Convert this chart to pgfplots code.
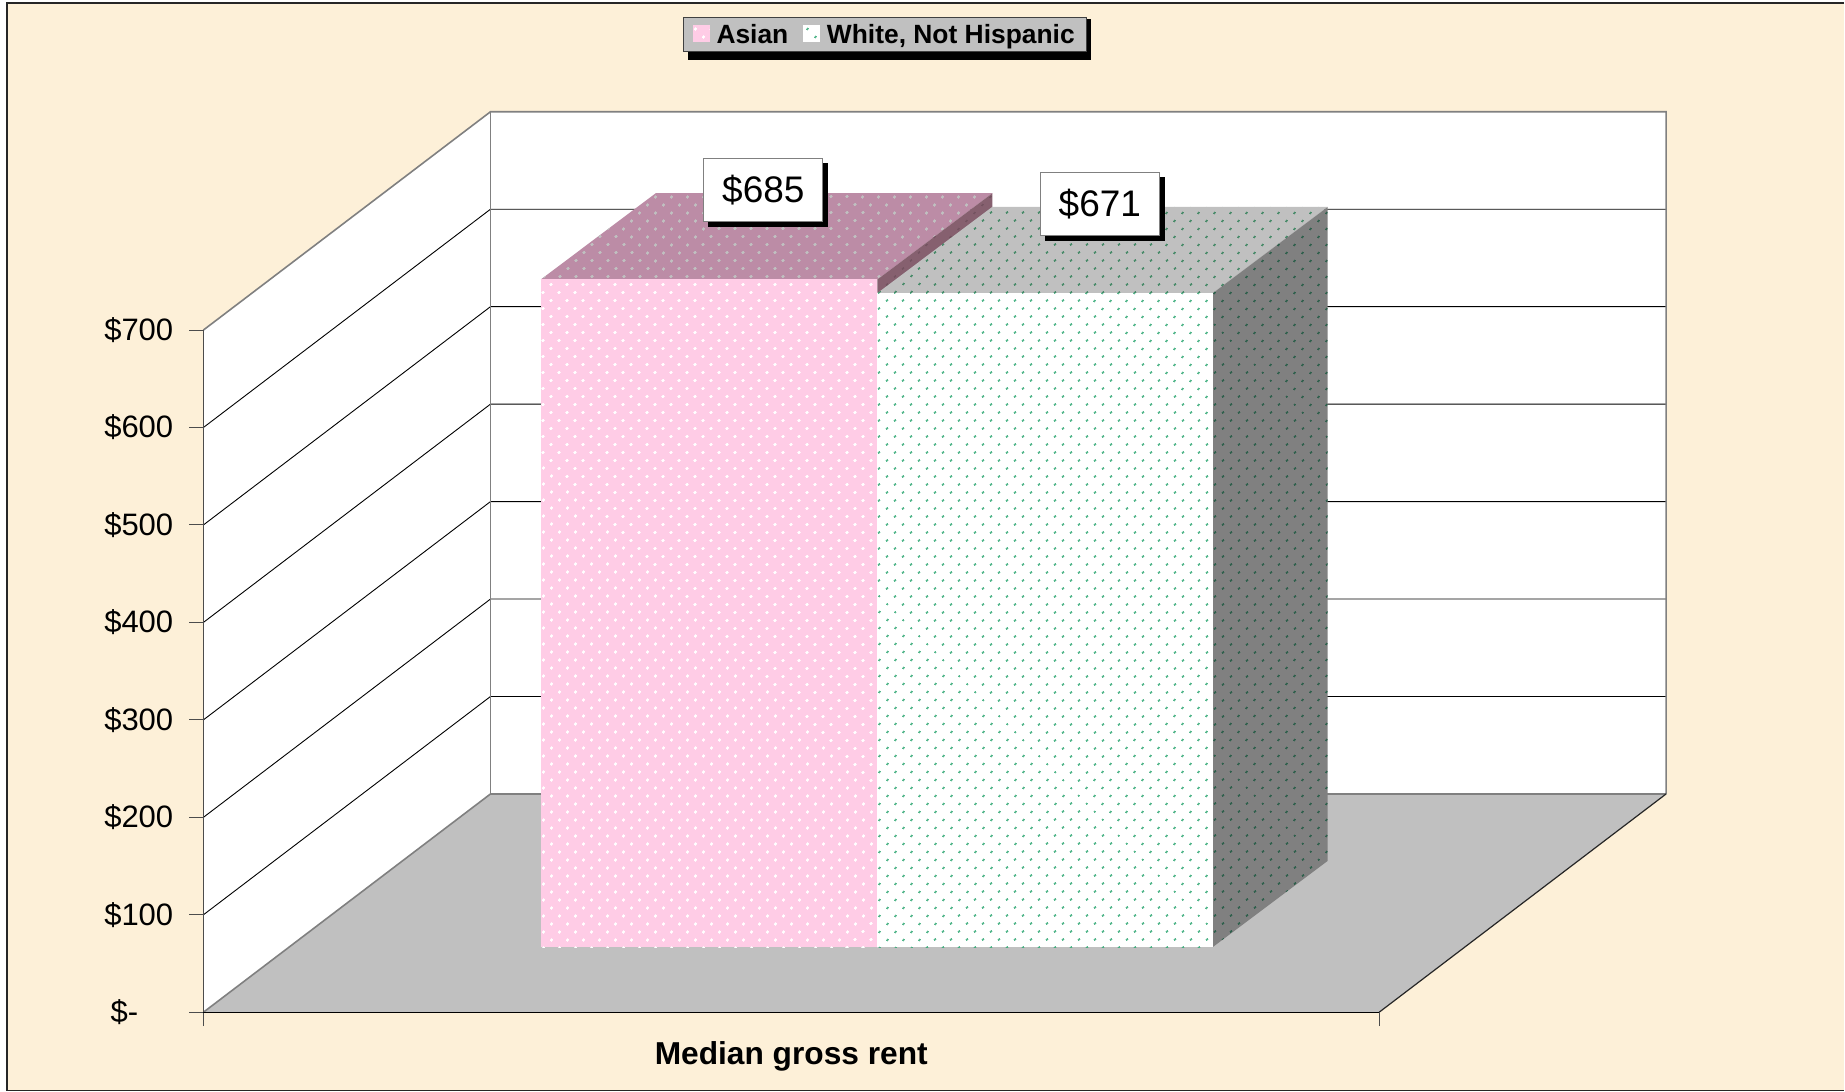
\documentclass[border=0pt]{standalone}
\usepackage{fontspec}
\setmainfont{Liberation Sans}
\usepackage{pgfplots}
\pgfplotsset{compat=1.18}
\usetikzlibrary{patterns.meta}
\definecolor{paper}{HTML}{FDF0D8}
\definecolor{floorgrey}{HTML}{C0C0C0}
\definecolor{wallline}{HTML}{808080}
\definecolor{pinkfront}{HTML}{FFCCE6}
\definecolor{pinktop}{HTML}{BC8CA6}
\definecolor{pinkside}{HTML}{86606F}
\definecolor{greendot}{HTML}{2FA873}
\definecolor{greendottop}{HTML}{2F8058}
\definecolor{greendotside}{HTML}{1F5A42}
\tikzset{
  dots/.style={pattern={Dots[angle=45,distance=11.31pt,radius=#1]}},
  databox/.style={draw=wallline,line width=1pt,fill=white,minimum width=119pt,minimum height=63pt,inner sep=0pt,font=\fontsize{37}{40}\selectfont},
  shadowbox/.style={fill=black,minimum width=120pt,minimum height=64pt,inner sep=0pt},
}
\begin{document}
\begin{tikzpicture}[x=1pt,y=1pt]
\begin{axis}[
  scale only axis, width=1176.2pt, height=682.5pt,
  xmin=203.5, xmax=1379.7, ymin=0, ymax=700,
  clip=false, axis on top,
  axis x line*=bottom, axis y line*=left,
  axis line style={-,line width=1.4pt,color=black!70},
  x axis line style={color=black},
  xtick={203.5,1379.7}, xticklabels={,},
  ytick={0,100,...,700},
  yticklabels={\mbox{\$-\hspace*{35pt}},\$100,\$200,\$300,\$400,\$500,\$600,\$700},
  tick align=outside, major tick length=14pt,
  tick style={line width=1pt,color=black!70},
  y tick label style={font=\fontsize{31}{34}\selectfont,inner sep=0pt,xshift=-16pt},
  xlabel={Median gross rent},
  xlabel style={font=\fontsize{31.7}{34}\selectfont\bfseries,at={(axis description cs:0.5,-0.064)},anchor=center},
  /pgf/number format/assume math mode=true,
  legend columns=2,
  legend cell align=left,
  legend style={
    at={(axis description cs:0.5794,1.4333)},anchor=center,
    fill=floorgrey,draw=black!75,line width=1pt,
    font=\fontsize{26.4}{29}\selectfont\bfseries,
    inner xsep=9.5pt,inner ysep=5pt,
    /tikz/every even column/.append style={column sep=12.6pt},
    /tikz/every odd column/.append style={column sep=5pt},
  },
]
% page and frame
\addplot[forget plot,fill=white,draw=none] coordinates {(0,-81.33)(0,1038.67)(1845,1038.67)(1845,-81.33)} -- cycle;
\addplot[forget plot,fill=paper,draw=none] coordinates {(7,-80.3)(7,1035.6)(1845,1035.6)(1845,-80.3)} -- cycle;
\addplot[forget plot,draw=black!85,line width=1.6pt] coordinates {(1845,1035.6)(7,1035.6)(7,-80.3)(1845,-80.3)};
% walls
\addplot[forget plot,fill=white,draw=none] coordinates {(203.5,0)(203.5,700)(490.7,924)(490.7,224)} -- cycle;
\addplot[forget plot,fill=white,draw=none] coordinates {(490.7,224)(490.7,924)(1666.8,924)(1666.8,224)} -- cycle;
% gridlines
\addplot[forget plot,black,line width=0.9pt] coordinates {(203.5,100)(490.7,324)(1666.8,324)};
\addplot[forget plot,black,line width=0.9pt] coordinates {(203.5,200)(490.7,424)(1666.8,424)};
\addplot[forget plot,black,line width=0.9pt] coordinates {(203.5,300)(490.7,524)(1666.8,524)};
\addplot[forget plot,black,line width=0.9pt] coordinates {(203.5,400)(490.7,624)(1666.8,624)};
\addplot[forget plot,black,line width=0.9pt] coordinates {(203.5,500)(490.7,724)(1666.8,724)};
\addplot[forget plot,black,line width=0.9pt] coordinates {(203.5,600)(490.7,824)(1666.8,824)};
% wall outline
\addplot[forget plot,wallline,line width=1.6pt] coordinates {(203.5,700)(490.7,924)(1666.8,924)(1666.8,224)};
\addplot[forget plot,wallline,line width=1.6pt] coordinates {(490.7,924)(490.7,224)};
% floor
\addplot[forget plot,fill=floorgrey,draw=none] coordinates {(203.5,0)(490.7,224)(1666.8,224)(1379.7,0)} -- cycle;
\addplot[forget plot,wallline,line width=1.6pt] coordinates {(203.5,0)(490.7,224)(1666.8,224)};
\addplot[forget plot,black!85,line width=1.2pt] coordinates {(1666.8,224)(1379.7,0)};
% Asian bar: top and side faces
\addplot[forget plot,draw=none,preaction={fill=pinktop},dots=1.5pt,pattern color=floorgrey] coordinates {(541,751.87)(656,840.38)(992.7,840.38)(877.7,751.87)} -- cycle;
\addplot[forget plot,draw=none,preaction={fill=pinkside},dots=1.2pt,pattern color=pinkside!80!black] coordinates {(877.7,751.87)(992.7,840.38)(992.7,155.38)(877.7,66.87)} -- cycle;
% Asian bar: front face
\addplot[ybar,bar width=336.7pt,yshift=65.2pt,draw=none,preaction={fill=pinkfront},dots=1.5pt,pattern color=white,
  legend image code/.code={\path[yshift=-73.2pt] (0pt,0pt) rectangle (17pt,17pt);}]
  coordinates {(709.35,685)};
\addlegendentry{Asian}
% White bar: top and side faces
\addplot[forget plot,draw=none,preaction={fill=floorgrey},dots=1.3pt,pattern color=greendottop] coordinates {(877.7,737.87)(992.7,826.38)(1328.3,826.38)(1213.3,737.87)} -- cycle;
\addplot[forget plot,draw=none,preaction={fill=wallline},dots=1.4pt,pattern color=greendotside] coordinates {(1213.3,737.87)(1328.3,826.38)(1328.3,155.38)(1213.3,66.87)} -- cycle;
% White bar: front face
\addplot[ybar,bar width=335.6pt,yshift=65.2pt,draw=none,preaction={fill=white},dots=1.3pt,pattern color=greendot,
  legend image code/.code={\path[yshift=-73.2pt] (0pt,0pt) rectangle (17pt,17pt);}]
  coordinates {(1045.5,671)};
\addlegendentry{White, Not Hispanic}
% data labels
\node[shadowbox] at (axis cs:768.7,838.7) {};
\node[databox] at (axis cs:763.7,843.8) {\$685};
\node[shadowbox] at (axis cs:1105.3,824.6) {};
\node[databox] at (axis cs:1100.3,829.7) {\$671};
% legend shadow
\node[fill=black,minimum width=403pt,minimum height=41pt,inner sep=0pt] at (axis cs:890,998.2) {};
\end{axis}
\end{tikzpicture}
\end{document}
